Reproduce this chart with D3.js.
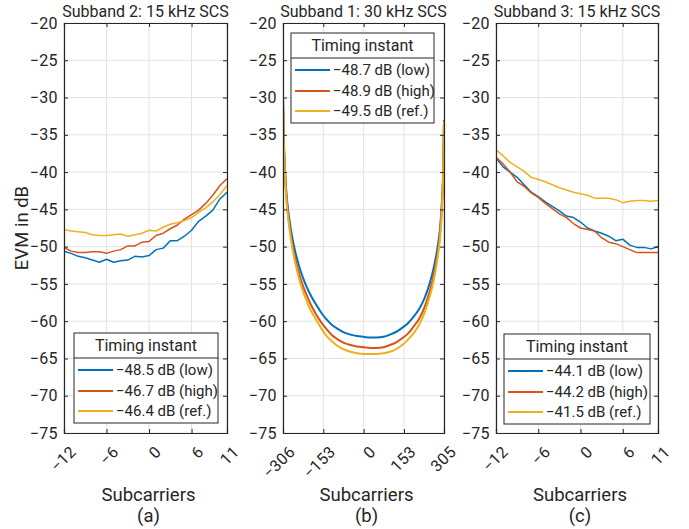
<!DOCTYPE html>
<html><head><meta charset="utf-8">
<script src="https://cdn.jsdelivr.net/npm/d3@7"></script>
<style>
body{margin:0;background:#fff;}
text{font-family:Roboto,"Noto Sans",sans-serif;fill:#262626;}
</style></head>
<body><svg id="chart" width="689" height="529"></svg>
<script>
// ---------- data ----------
const seriesNames = ["low", "high", "ref."];
const colors = ["#0072BD", "#D95319", "#EDB120"];
const yTicks = [-20, -25, -30, -35, -40, -45, -50, -55, -60, -65, -70, -75];

// Panel (a): Subband 2, 15 kHz SCS
const aX = [-12,-11,-10,-9,-8,-7,-6,-5,-4,-3,-2,-1,0,1,2,3,4,5,6,7,8,9,10,11];
const aLow  = [-50.6,-50.9,-51.3,-51.5,-51.8,-52.1,-51.7,-52.1,-51.9,-51.8,-51.3,-51.4,-51.2,-50.4,-50.2,-49.2,-49.2,-48.6,-47.8,-46.6,-45.9,-45.1,-43.6,-42.7];
const aHigh = [-50.1,-50.6,-50.8,-50.8,-50.7,-50.7,-50.9,-50.6,-50.4,-49.9,-49.9,-49.4,-49.3,-48.5,-48.2,-47.6,-47.1,-46.3,-45.7,-45.1,-44.2,-43.1,-41.8,-40.9];
const aRef  = [-47.7,-47.9,-48.0,-48.1,-48.4,-48.5,-48.5,-48.4,-48.3,-48.6,-48.4,-48.2,-47.8,-47.9,-47.4,-47.0,-46.8,-46.5,-46.1,-45.4,-44.8,-44.0,-43.0,-41.8];
const aTicks = [-12, -6, 0, 6, 11];
const aLegend = ["\u221248.5 dB (low)", "\u221246.7 dB (high)", "\u221246.4 dB (ref.)"];

// Panel (b): Subband 1, 30 kHz SCS
const bX = [-306,-303,-300,-295,-290,-280,-270,-260,-245,-230,-215,-200,-180,-160,-140,-120,-100,-75,-50,-25,0,25,50,75,100,125,150,170,190,210,230,250,265,280,290,297,302,305];
const bLow  = [-30.0,-35.5,-38.5,-41.8,-44.0,-46.8,-48.9,-50.6,-52.6,-54.2,-55.5,-56.6,-57.8,-58.9,-59.8,-60.5,-61.0,-61.5,-61.8,-62.0,-62.1,-62.2,-62.2,-62.1,-61.8,-61.4,-60.8,-60.2,-59.4,-58.4,-57.0,-55.0,-53.0,-50.2,-47.5,-44.0,-39.5,-33.0];
const bHigh = [-30.0,-35.8,-38.9,-42.3,-44.6,-47.6,-49.8,-51.5,-53.6,-55.3,-56.6,-57.8,-59.1,-60.2,-61.1,-61.9,-62.4,-62.9,-63.2,-63.4,-63.5,-63.6,-63.6,-63.5,-63.2,-62.8,-62.2,-61.6,-60.7,-59.7,-58.2,-56.1,-54.0,-51.1,-48.3,-44.6,-39.9,-33.1];
const bRef  = [-30.0,-35.9,-39.1,-42.7,-45.0,-48.0,-50.3,-52.1,-54.3,-56.0,-57.4,-58.6,-59.8,-61.0,-62.0,-62.7,-63.3,-63.8,-64.1,-64.3,-64.4,-64.4,-64.4,-64.3,-64.1,-63.7,-63.1,-62.4,-61.6,-60.5,-59.0,-56.8,-54.7,-51.7,-48.8,-45.0,-40.2,-33.2];
const bTicks = [-306, -153, 0, 153, 305];
const bLegend = ["\u221248.7 dB (low)", "\u221248.9 dB (high)", "\u221249.5 dB (ref.)"];

// Panel (c): Subband 3, 15 kHz SCS
const cX = [-12,-11,-10,-9,-8,-7,-6,-5,-4,-3,-2,-1,0,1,2,3,4,5,6,7,8,9,10,11];
const cLow  = [-38.1,-39.3,-40.0,-40.7,-41.7,-42.7,-43.3,-44.0,-44.6,-45.2,-45.9,-46.1,-46.7,-47.5,-47.9,-48.2,-48.6,-49.2,-49.0,-49.8,-50.1,-50.1,-50.3,-50.0];
const cHigh = [-38.0,-38.9,-40.0,-41.3,-41.9,-42.8,-43.4,-44.2,-44.9,-45.6,-46.1,-46.9,-47.5,-47.7,-47.9,-48.8,-49.4,-49.6,-50.0,-50.4,-50.8,-50.8,-50.8,-50.8];
const cRef  = [-37.0,-37.8,-38.7,-39.3,-39.9,-40.7,-41.0,-41.3,-41.7,-42.1,-42.4,-42.7,-42.9,-43.1,-43.5,-43.5,-43.5,-43.7,-44.1,-43.9,-43.8,-43.8,-43.9,-43.8];
const cTicks = [-12, -6, 0, 6, 11];
const cLegend = ["\u221244.1 dB (low)", "\u221244.2 dB (high)", "\u221241.5 dB (ref.)"];

const titles = ["Subband 2: 15 kHz SCS", "Subband 1: 30 kHz SCS", "Subband 3: 15 kHz SCS"];
const letters = ["(a)", "(b)", "(c)"];
const legendTitle = "Timing instant";
const xLabel = "Subcarriers";
const yLabel = "EVM in dB";

// ---------- layout ----------
const yTop = 23, yBot = 433;
const panels = [
  {x: aX, ys: [aLow, aHigh, aRef], ticks: aTicks, legend: aLegend, left: 64, right: 227, lg: {x: 74, y: 333, w: 144}, curve: d3.curveLinear, sw: 1.5},
  {x: bX, ys: [bLow, bHigh, bRef], ticks: bTicks, legend: bLegend, left: 283, right: 444, lg: {x: 291, y: 33, w: 143}, curve: d3.curveMonotoneX, sw: 2},
  {x: cX, ys: [cLow, cHigh, cRef], ticks: cTicks, legend: cLegend, left: 496, right: 658, lg: {x: 504, y: 334, w: 146}, curve: d3.curveLinear, sw: 1.5}
];

const svg = d3.select("#chart");
const y = d3.scaleLinear().domain([-75, -20]).range([yBot, yTop]);
const fmt = d3.format("d");

panels.forEach((p, i) => {
  const xs = d3.scaleLinear().domain([p.ticks[0], p.ticks[p.ticks.length - 1]]).range([p.left, p.right]);
  const g = svg.append("g");
  // grid
  g.append("g").selectAll("line").data(p.ticks).join("line")
    .attr("x1", d => xs(d)).attr("x2", d => xs(d)).attr("y1", yTop).attr("y2", yBot)
    .attr("stroke", "#e3e3e3").attr("stroke-width", 1);
  g.append("g").selectAll("line").data(yTicks).join("line")
    .attr("x1", p.left).attr("x2", p.right).attr("y1", d => y(d)).attr("y2", d => y(d))
    .attr("stroke", "#e3e3e3").attr("stroke-width", 1);

  // lines
  const clipId = "clip" + i;
  svg.append("clipPath").attr("id", clipId).append("rect")
    .attr("x", p.left).attr("y", yTop).attr("width", p.right - p.left).attr("height", yBot - yTop);
  const line = d3.line().x((d, k) => xs(p.x[k])).y(d => y(d)).curve(p.curve);
  const lg = g.append("g").attr("clip-path", `url(#${clipId})`);
  p.ys.forEach((ser, s) => {
    lg.append("path").attr("d", line(ser)).attr("fill", "none")
      .attr("stroke", colors[s]).attr("stroke-width", p.sw).attr("stroke-linejoin", "round");
  });

  // axes (box with inward ticks)
  const axL = d3.axisLeft(y).tickValues(yTicks).tickSize(-4).tickPadding(6).tickFormat(fmt);
  const axR = d3.axisRight(y).tickValues(yTicks).tickSize(-4).tickFormat("");
  const axB = d3.axisBottom(xs).tickValues(p.ticks).tickSize(-4).tickFormat("");
  const axT = d3.axisTop(xs).tickValues(p.ticks).tickSize(-4).tickFormat("");
  const gl = g.append("g").attr("transform", `translate(${p.left},0)`).call(axL);
  g.append("g").attr("transform", `translate(${p.right},0)`).call(axR);
  g.append("g").attr("transform", `translate(0,${yBot})`).call(axB);
  g.append("g").attr("transform", `translate(0,${yTop})`).call(axT);
  g.selectAll(".domain").attr("stroke", "#262626").attr("stroke-width", 1.2);
  g.selectAll(".tick line").attr("stroke", "#262626");
  gl.selectAll("text").attr("font-size", 16).attr("letter-spacing", 0.4)
    .attr("fill", "#262626").attr("font-family", "Roboto");

  // rotated x tick labels
  g.append("g").selectAll("text").data(p.ticks).join("text")
    .attr("transform", d => `translate(${xs(d) + 9},449) rotate(-45)`)
    .attr("text-anchor", "end").attr("dy", "0.35em").attr("font-size", 16)
    .attr("letter-spacing", 0.3)
    .text(d => fmt(d));

  const cx = (p.left + p.right) / 2;
  g.append("text").attr("x", cx).attr("y", 17).attr("text-anchor", "middle")
    .attr("font-size", 16).text(titles[i]);
  g.append("text").attr("x", cx + 3).attr("y", 501).attr("text-anchor", "middle")
    .attr("font-size", 18.5).text(xLabel);
  g.append("text").attr("x", cx + 3).attr("y", 522).attr("text-anchor", "middle")
    .attr("font-size", 18.5).text(letters[i]);

  // legend
  const L = p.lg;
  const lgG = g.append("g").attr("transform", `translate(${L.x},${L.y})`);
  lgG.append("rect").attr("width", L.w).attr("height", 90).attr("fill", "#fff")
    .attr("stroke", "#262626").attr("stroke-width", 1);
  lgG.append("line").attr("x1", 0).attr("x2", L.w).attr("y1", 25).attr("y2", 25)
    .attr("stroke", "#262626").attr("stroke-width", 1);
  lgG.append("text").attr("x", L.w / 2).attr("y", 18).attr("text-anchor", "middle")
    .attr("font-size", 16).text(legendTitle);
  const rows = [37, 58, 78];
  p.legend.forEach((t, s) => {
    lgG.append("line").attr("x1", 4).attr("x2", 39).attr("y1", rows[s]).attr("y2", rows[s])
      .attr("stroke", colors[s]).attr("stroke-width", 2);
    lgG.append("text").attr("x", 42).attr("y", rows[s]).attr("dy", "0.35em")
      .attr("font-size", 15).text(t);
  });
});

svg.append("text").attr("transform", "translate(22,228) rotate(-90)")
  .attr("text-anchor", "middle").attr("dy", "0.35em").attr("font-size", 18.5).text(yLabel);
</script></body></html>
